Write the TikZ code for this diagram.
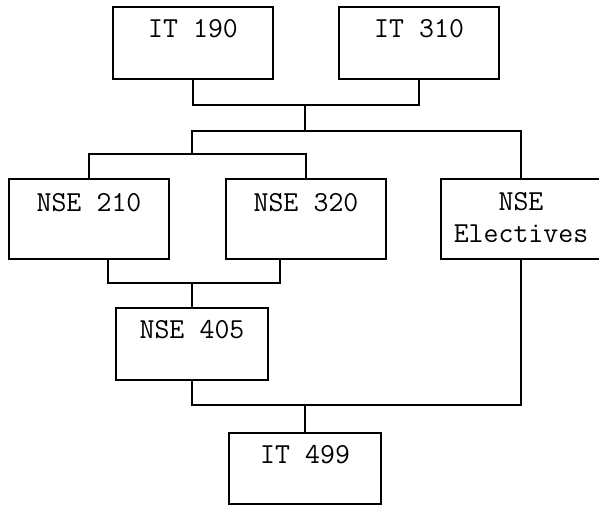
\documentclass[tikz,border=0pt]{standalone}
\usepackage{tikz}
\usetikzlibrary{positioning,calc}

\begin{document}
\begin{tikzpicture}[x=1pt,y=-1pt,line width=1.6pt,
    course/.style={draw,anchor=north,inner sep=0pt,text width=#1,align=center,
      text height=31pt,font=\ttfamily\fontsize{29}{32}\selectfont,
      execute at begin node={\spaceskip=15.2pt\relax}},
    course/.default=160pt]
      \useasboundingbox (0,0) rectangle (599,504);
      % courses
      \node[course,text depth=41pt] (it190) at (193,6) {IT 190};
      \node[course,text depth=41pt] (it310) at (419,6) {IT 310};
      \node[course,text height=33pt,text depth=47pt] (nse210) at (89,178) {NSE 210};
      \node[course,text height=33pt,text depth=47pt] (nse320) at (306,178) {NSE 320};
      \node[course,text height=32pt,text depth=48pt] (elect) at (521,178) {NSE\\Electives};
      \node[course=152pt,text depth=41pt] (nse405) at (192,307) {NSE 405};
      \node[course=152pt,text depth=40pt] (it499) at (305,432) {IT 499};
      % junctions
      \coordinate (j1) at (305,105);
      \coordinate (j2) at (305,131);
      \coordinate (j3) at (192,154);
      \coordinate (j4) at (192,283);
      \coordinate (j5) at (305,405);
      % connectors
      \draw (it190.south) |- (j1) -| (it310.south); \draw (j1) -- (j2);
      \draw (j3) |- (j2) -| (elect.north);
      \draw (nse210.north) |- (j3) -| (nse320.north);
      \draw ([xshift=19pt]nse210.south) |- (j4) -| ([xshift=-26pt]nse320.south);
      \draw (j4) -- (nse405.north);
      \draw (nse405.south) |- (j5) -| (elect.south); \draw (j5) -- (it499.north);
    \end{tikzpicture}
\end{document}
